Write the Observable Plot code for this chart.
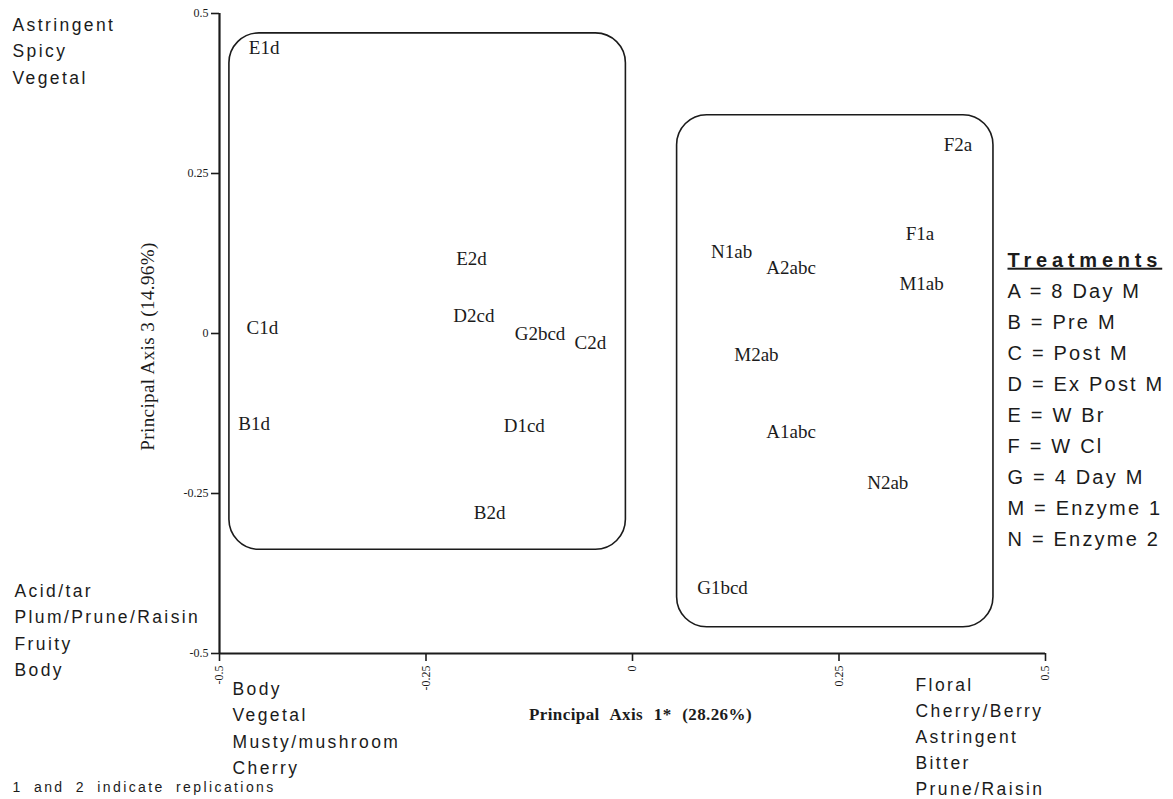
<!DOCTYPE html>
<html>
<head>
<meta charset="utf-8">
<script src="https://cdn.jsdelivr.net/npm/d3@7"></script>
<script src="https://cdn.jsdelivr.net/npm/@observablehq/plot@0.6"></script>
<style>
  html, body { margin: 0; padding: 0; background: #fff; }
  #chart { width: 1173px; height: 799px; overflow: hidden; }
</style>
</head>
<body>
<div id="chart"></div>
<script>
// ---- data ----
const sampleLabels = ["E1d", "C1d", "B1d", "E2d", "D2cd", "G2bcd", "C2d", "D1cd", "B2d",
                      "F2a", "F1a", "N1ab", "A2abc", "M1ab", "M2ab", "A1abc", "N2ab", "G1bcd"];
const axis1Scores = [-0.446, -0.448, -0.458, -0.195, -0.192, -0.112, -0.051, -0.131, -0.173,
                      0.394, 0.348, 0.120, 0.192, 0.350, 0.150, 0.192, 0.309, 0.109];
const axis3Scores = [0.447, 0.008, -0.142, 0.117, 0.027, 0.000, -0.014, -0.144, -0.280,
                     0.295, 0.156, 0.127, 0.103, 0.077, -0.034, -0.154, -0.233, -0.398];

const clusterNames = ["left cluster", "right cluster"];
const clusterX1 = [-0.488, 0.054];
const clusterX2 = [-0.008, 0.437];
const clusterY1 = [-0.338, -0.459];
const clusterY2 = [0.469, 0.341];

const tickValues = [-0.5, -0.25, 0, 0.25, 0.5];
const tickLabels = ["-0.5", "-0.25", "0", "0.25", "0.5"];

const xTitle = "Principal Axis 1* (28.26%)";
const yTitle = "Principal Axis 3 (14.96%)";
const topLeftNote = ["Astringent", "Spicy", "Vegetal"];
const bottomLeftNote = ["Acid/tar", "Plum/Prune/Raisin", "Fruity", "Body"];
const belowAxisNote = ["Body", "Vegetal", "Musty/mushroom", "Cherry"];
const rightNote = ["Floral", "Cherry/Berry", "Astringent", "Bitter", "Prune/Raisin"];
const legendTitle = "Treatments";
const legendEntries = ["A = 8 Day M", "B = Pre M", "C = Post M", "D = Ex Post M", "E = W Br",
                       "F = W Cl", "G = 4 Day M", "M = Enzyme 1", "N = Enzyme 2"];
const footNote = "1 and 2 indicate replications";

// ---- build tables ----
const points = sampleLabels.map((label, i) => ({label, pc1: axis1Scores[i], pc3: axis3Scores[i]}));
const clusters = clusterNames.map((name, i) => ({name, x1: clusterX1[i], x2: clusterX2[i], y1: clusterY1[i], y2: clusterY2[i]}));
const fmt = v => tickLabels[tickValues.indexOf(v)];

const serif = "'Liberation Serif', 'Times New Roman', Times, serif";
const sans = "'Liberation Sans', Arial, Helvetica, sans-serif";
const ink = "#1b1b1b";

const note = (lines, frameAnchor, dx, dy, extra = {}) =>
  Plot.text([lines.join("\n")], {
    frameAnchor, dx, dy, text: d => d, textAnchor: "start", lineAnchor: "top",
    fontFamily: sans, fontSize: 17.5, lineHeight: 26.2 / 17.5, fill: ink,
    ariaDescription: "sensory-note", ...extra
  });

const chart = Plot.plot({
  width: 1173,
  height: 799,
  marginLeft: 219,
  marginRight: 128,
  marginTop: 13,
  marginBottom: 146,
  x: {domain: [-0.5, 0.5]},
  y: {domain: [-0.5, 0.5]},
  style: {background: "#fff", color: ink, overflow: "visible"},
  marks: [
    Plot.rect(clusters, {x1: "x1", x2: "x2", y1: "y1", y2: "y2", rx: 30, fill: "none", stroke: ink, strokeWidth: 1.6}),
    Plot.axisY({ticks: tickValues, tickFormat: fmt, tickSize: 8, tickPadding: 3, strokeWidth: 1.6,
                fontSize: 12, fontFamily: serif, label: null}),
    Plot.axisX({ticks: tickValues, tickFormat: fmt, tickSize: 8, tickPadding: 4, tickRotate: -90, strokeWidth: 1.6,
                fontSize: 12, fontFamily: serif, label: null}),
    Plot.ruleX([-0.5], {stroke: ink, strokeWidth: 2.2}),
    Plot.ruleY([-0.5], {stroke: ink, strokeWidth: 2.2}),
    Plot.text(points, {x: "pc1", y: "pc3", text: "label", fontFamily: serif, fontSize: 19, fill: ink}),
    // axis titles
    Plot.text([xTitle], {frameAnchor: "bottom", text: d => d, dx: 8, dy: 54, lineAnchor: "top", textAnchor: "middle",
                         fontFamily: serif, fontWeight: "bold", fontSize: 17, fill: ink, ariaDescription: "x-title"}),
    Plot.text([yTitle], {frameAnchor: "left", text: d => d, dx: -72, dy: 13, rotate: -90, textAnchor: "middle",
                         fontFamily: serif, fontSize: 19, fill: ink, ariaDescription: "y-title"}),
    // sensory annotations
    note(topLeftNote, "top-left", -207, -1),
    note(bottomLeftNote, "bottom-left", -205, -75),
    note(belowAxisNote, "bottom-left", 13, 23),
    note(rightNote, "bottom-right", -130, 19, {lineHeight: 26 / 17.5}),
    note([footNote], "bottom-left", -207, 124, {fontSize: 14, ariaDescription: "replication-note"}),
    // legend
    Plot.text([legendTitle], {frameAnchor: "top-right", text: d => d, dx: -38, dy: 239, textAnchor: "start", lineAnchor: "top",
                              fontFamily: sans, fontWeight: "bold", fontSize: 20, fill: ink, ariaDescription: "legend-title"}),
    Plot.text([legendEntries.join("\n")], {frameAnchor: "top-right", text: d => d, dx: -38, dy: 262, textAnchor: "start", lineAnchor: "top",
                              fontFamily: sans, fontSize: 20, lineHeight: 31 / 20, fill: ink, ariaDescription: "legend-entries"})
  ]
});

// typographic spacing that Plot's text options do not expose
const spacing = {
  "sensory-note": {letterSpacing: "2.4px"},
  "replication-note": {letterSpacing: "2.4px", wordSpacing: "5px"},
  "legend-title": {letterSpacing: "4.8px", textDecoration: "underline"},
  "legend-entries": {letterSpacing: "2.2px"},
  "x-title": {letterSpacing: "0.4px", wordSpacing: "6px"},
  "y-title": {letterSpacing: "0.4px"}
};
for (const [key, st] of Object.entries(spacing)) {
  chart.querySelectorAll(`g[aria-description="${key}"] text`).forEach(t => Object.assign(t.style, st));
}

document.getElementById("chart").appendChild(chart);
</script>
</body>
</html>
